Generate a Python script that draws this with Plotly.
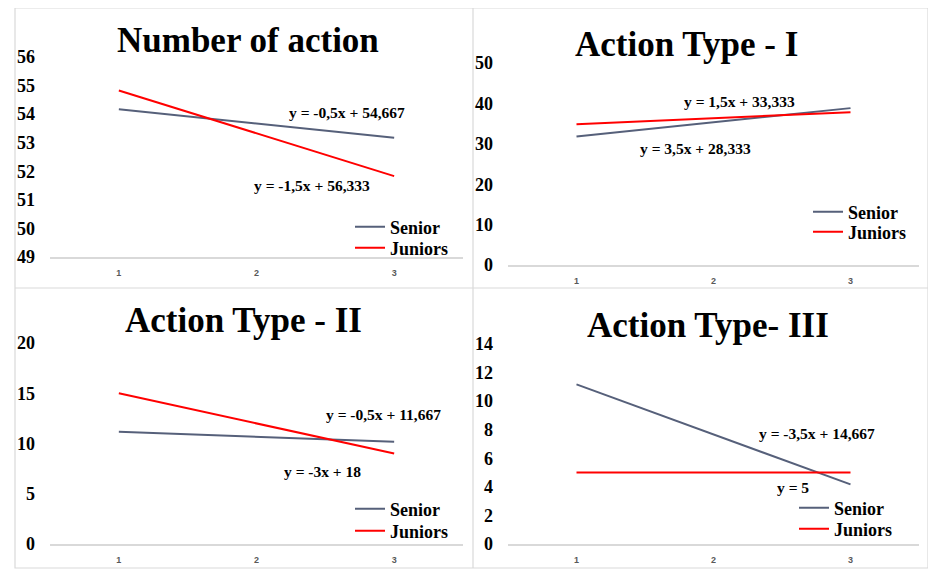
import plotly.graph_objects as go

W, H = 936, 579
OFF = 8  # page body margin in the browser

# ---- data ----
x_vals = [1, 2, 3]
titles = ["Number of action", "Action Type - I", "Action Type - II", "Action Type- III"]
senior = [
    [54.17, 53.67, 53.17],
    [31.83, 35.33, 38.83],
    [11.17, 10.67, 10.17],
    [11.17, 7.67, 4.17],
]
juniors = [
    [54.83, 53.33, 51.83],
    [34.83, 36.33, 37.83],
    [15.0, 12.0, 9.0],
    [5.0, 5.0, 5.0],
]
eq_senior = ["y = -0,5x + 54,667", "y = 3,5x + 28,333", "y = -0,5x + 11,667", "y = -3,5x + 14,667"]
eq_juniors = ["y = -1,5x + 56,333", "y = 1,5x + 33,333", "y = -3x + 18", "y = 5"]
y_ranges = [[49, 56], [0, 50], [0, 20], [0, 14]]
y_dticks = [1, 10, 5, 2]

SENIOR_C = "#56607A"
JUNIOR_C = "#FF0000"
SERIF = "Liberation Serif"


def px(x):
    return (x - OFF) / W


def py(y):
    return (H - (y - OFF)) / H


# layout geometry in pixels: (x0, x1, y_bottom, y_top)
plots = [
    (50, 463, 257, 57),
    (508, 919, 265, 63),
    (50, 463, 544, 343),
    (508, 919, 544, 344),
]
title_pos = [(248, 40), (686, 45), (243, 320), (708, 325)]
eqs_pos = [((347, 113), (312, 186)), ((695, 148), (739, 101)),
           ((383, 414), (322, 471)), ((817, 434), (793, 487))]
# (text-left x, senior y, juniors y)
legend_pos = [(390, 227, 248), (848, 212, 232), (390, 509, 531), (834, 508, 529)]

fig = go.Figure()
layout = dict(
    width=W, height=H, margin=dict(l=0, r=0, t=0, b=0, autoexpand=False),
    paper_bgcolor="white", plot_bgcolor="white", showlegend=True,
    annotations=[], shapes=[],
)

for i in range(4):
    n = "" if i == 0 else str(i + 1)
    leg_s = "legend" if i == 0 else f"legend{2 * i + 1}"
    leg_j = f"legend{2 * i + 2}"
    fig.add_trace(go.Scatter(x=x_vals, y=senior[i], mode="lines", name="Senior",
                             line=dict(color=SENIOR_C, width=2), showlegend=True,
                             xaxis="x" + n, yaxis="y" + n, legend=leg_s))
    fig.add_trace(go.Scatter(x=x_vals, y=juniors[i], mode="lines", name="Juniors",
                             line=dict(color=JUNIOR_C, width=2), showlegend=True,
                             xaxis="x" + n, yaxis="y" + n, legend=leg_j))
    x0, x1, yb, yt = plots[i]
    layout["xaxis" + n] = dict(
        domain=[px(x0), px(x1)], range=[0.5, 3.5], tickvals=x_vals,
        ticktext=[str(v) for v in x_vals], showgrid=False, zeroline=False,
        showline=True, linecolor="#D9D9D9", linewidth=1.5, ticks="",
        tickfont=dict(family="Liberation Sans", size=9, color="#595959", weight="bold"),
        ticklabelstandoff=6, anchor="y" + n, fixedrange=True, automargin=False,
    )
    layout["yaxis" + n] = dict(
        domain=[py(yb), py(yt)], range=y_ranges[i], dtick=y_dticks[i],
        showgrid=False, zeroline=False, showline=False, ticks="",
        tickfont=dict(family=SERIF, size=18, color="black", weight="bold"),
        ticklabelstandoff=14, anchor="x" + n, fixedrange=True, automargin=False,
    )
    lx, ly_s, ly_j = legend_pos[i]
    for leg, ly in ((leg_s, ly_s), (leg_j, ly_j)):
        layout[leg] = dict(
            x=px(lx - 40), y=py(ly), xanchor="left", yanchor="middle",
            bgcolor="rgba(0,0,0,0)", itemwidth=30, borderwidth=0, visible=True,
            font=dict(family=SERIF, size=18, color="black", weight="bold"),
        )
    tx, ty = title_pos[i]
    layout["annotations"].append(dict(
        text=titles[i], x=px(tx), y=py(ty), xref="paper", yref="paper",
        showarrow=False, xanchor="center", yanchor="middle",
        font=dict(family=SERIF, size=35, color="black", weight="bold"),
    ))
    for txt, (ex, ey) in zip([eq_senior[i], eq_juniors[i]], eqs_pos[i]):
        layout["annotations"].append(dict(
            text=txt, x=px(ex), y=py(ey), xref="paper", yref="paper",
            showarrow=False, xanchor="center", yanchor="middle",
            font=dict(family=SERIF, size=15.5, color="black", weight="bold"),
        ))

border = dict(color="#D9D9D9", width=1.2)
layout["shapes"] += [
    dict(type="rect", xref="paper", yref="paper", x0=px(15), x1=px(928),
         y0=py(568), y1=py(8), line=border),
    dict(type="line", xref="paper", yref="paper", x0=px(473), x1=px(473),
         y0=py(568), y1=py(8), line=border),
    dict(type="line", xref="paper", yref="paper", x0=px(15), x1=px(928),
         y0=py(288), y1=py(288), line=border),
]

fig.update_layout(**layout)
fig.write_html("out.html")
